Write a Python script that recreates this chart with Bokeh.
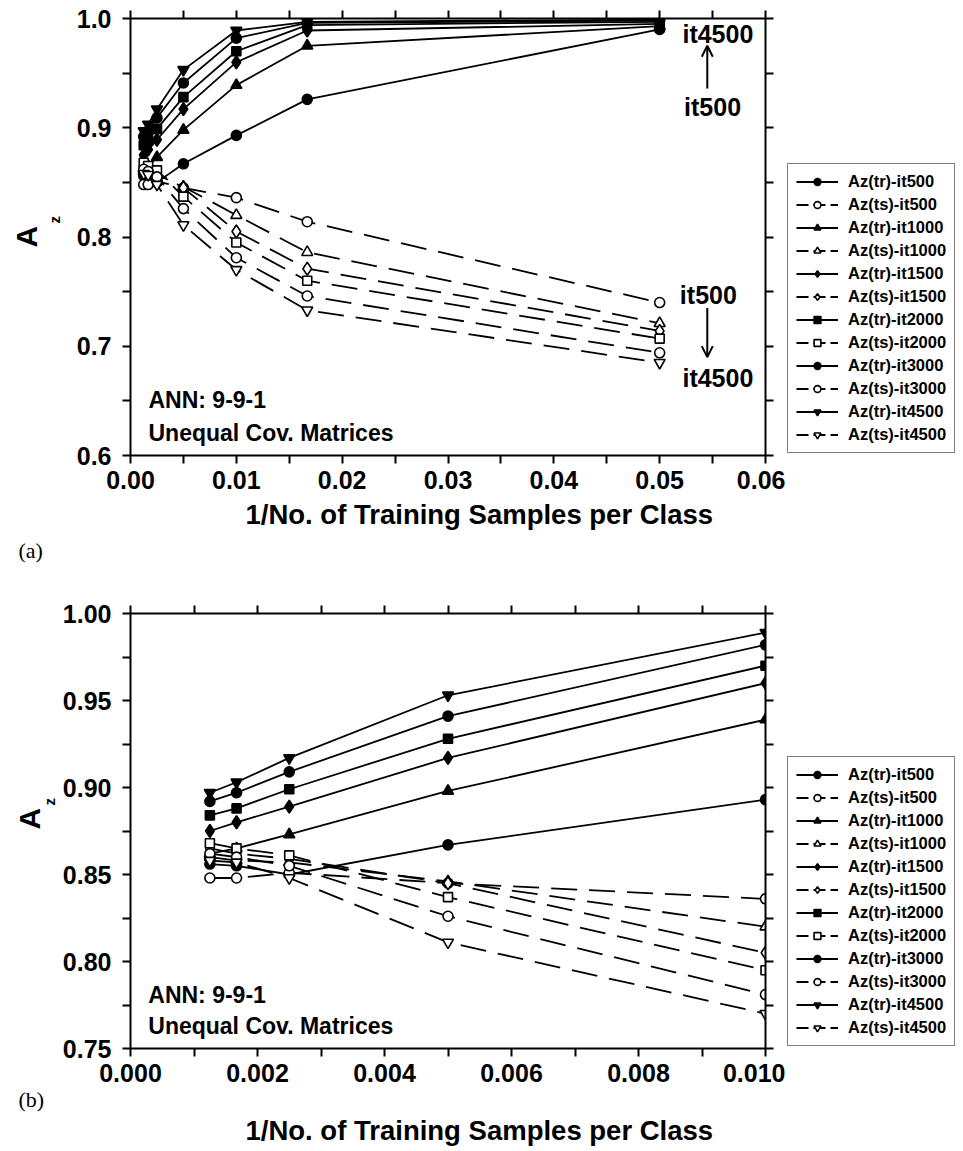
from bokeh.plotting import figure
from bokeh.models import (LinearAxis, Range1d, Legend, LegendItem, Label, Arrow,
                          OpenHead, FixedTicker, NumeralTickFormatter, Title)
from bokeh.layouts import column, row
from bokeh.embed import file_html
from bokeh.resources import INLINE

# ---------------- data ----------------
x_vals = [0.00125, 0.00167, 0.0025, 0.005, 0.01, 0.0167, 0.05]

series_labels = ["Az(tr)-it500", "Az(ts)-it500", "Az(tr)-it1000", "Az(ts)-it1000",
                 "Az(tr)-it1500", "Az(ts)-it1500", "Az(tr)-it2000", "Az(ts)-it2000",
                 "Az(tr)-it3000", "Az(ts)-it3000", "Az(tr)-it4500", "Az(ts)-it4500"]

tr500 = [0.856, 0.855, 0.850, 0.867, 0.893, 0.926, 0.990]
ts500 = [0.848, 0.848, 0.851, 0.845, 0.836, 0.814, 0.740]
tr1000 = [0.862, 0.865, 0.873, 0.898, 0.939, 0.975, 0.993]
ts1000 = [0.860, 0.858, 0.857, 0.846, 0.820, 0.786, 0.721]
tr1500 = [0.875, 0.880, 0.889, 0.917, 0.960, 0.989, 0.995]
ts1500 = [0.865, 0.862, 0.859, 0.845, 0.805, 0.771, 0.714]
tr2000 = [0.884, 0.888, 0.899, 0.928, 0.970, 0.994, 0.997]
ts2000 = [0.868, 0.865, 0.861, 0.837, 0.795, 0.760, 0.707]
tr3000 = [0.892, 0.897, 0.909, 0.941, 0.982, 0.996, 0.998]
ts3000 = [0.862, 0.860, 0.855, 0.826, 0.781, 0.746, 0.694]
tr4500 = [0.897, 0.903, 0.917, 0.953, 0.989, 0.997, 0.999]
ts4500 = [0.858, 0.857, 0.848, 0.811, 0.770, 0.733, 0.685]

series_values = [tr500, ts500, tr1000, ts1000, tr1500, ts1500,
                 tr2000, ts2000, tr3000, ts3000, tr4500, ts4500]

xticks_a = [0.0, 0.01, 0.02, 0.03, 0.04, 0.05, 0.06]
xminor_a = [0.005, 0.015, 0.025, 0.035, 0.045, 0.055]
yticks_a = [0.6, 0.7, 0.8, 0.9, 1.0]
yminor_a = [0.65, 0.75, 0.85, 0.95]
xticks_b = [0.0, 0.002, 0.004, 0.006, 0.008, 0.010]
xminor_b = [0.001, 0.003, 0.005, 0.007, 0.009]
yticks_b = [0.75, 0.80, 0.85, 0.90, 0.95, 1.00]
yminor_b = [0.775, 0.825, 0.875, 0.925, 0.975]

# ---------------- styles ----------------
FONT = "Liberation Sans"
markers = ["circle", "circle", "triangle", "triangle", "diamond", "diamond",
           "square", "square", "circle", "circle", "inverted_triangle", "inverted_triangle"]
msizes = {"circle": 10, "triangle": 11, "diamond": 13, "square": 9, "inverted_triangle": 11}
NAN = float("nan")


def style_axis(ax, ticks, minor, fmt, show_labels=True):
    if show_labels:
        ax.ticker = FixedTicker(ticks=ticks, minor_ticks=minor)
        ax.formatter = NumeralTickFormatter(format=fmt)
    else:
        # unlabeled mirror axis: every tick drawn as a minor tick (no labels)
        ax.ticker = FixedTicker(ticks=[], minor_ticks=sorted(ticks + minor))
    ax.axis_line_width = 2
    ax.axis_line_color = "black"
    ax.major_tick_line_width = 2
    ax.minor_tick_line_width = 2
    ax.major_tick_in = 0
    ax.minor_tick_in = 0
    ax.major_tick_out = 8
    ax.minor_tick_out = 8
    ax.major_label_text_font = FONT
    ax.major_label_text_font_style = "bold"
    ax.major_label_text_color = "black"
    ax.major_label_text_font_size = "25px"


def make_main(height, top, bottom, xr, yr, xt, xm, yt, ym, xfmt, yfmt, tag, tag_first,
              title_standoff, ann_y, ann_x, a_off, z_standoff, a_standoff):
    p = figure(width=785, height=height, x_range=Range1d(*xr), y_range=Range1d(*yr),
               output_backend="svg", toolbar_location=None,
               min_border_left=130, min_border_right=20,
               min_border_top=top, min_border_bottom=bottom,
               x_axis_location=None, y_axis_location=None)
    p.xgrid.visible = False
    p.ygrid.visible = False
    p.outline_line_color = None
    p.background_fill_color = "white"
    p.border_fill_color = "white"

    bx = LinearAxis()
    style_axis(bx, xt, xm, xfmt)
    bx.major_label_standoff = 7
    p.add_layout(bx, "below")

    ly = LinearAxis()
    style_axis(ly, yt, ym, yfmt)
    ly.major_label_standoff = 11
    p.add_layout(ly, "left")

    tx = LinearAxis()
    style_axis(tx, xt, xm, xfmt, show_labels=False)
    p.add_layout(tx, "above")

    ry = LinearAxis()
    style_axis(ry, yt, ym, yfmt, show_labels=False)
    p.add_layout(ry, "right")

    xtitle = Title(text="1/No. of Training Samples per Class", align="left", offset=115,
                   standoff=title_standoff, text_font=FONT, text_font_style="bold",
                   text_font_size="27.5px", text_color="black")
    tagt = Title(text=tag, align="left", offset=-112, standoff=0,
                 text_font="Liberation Serif", text_font_style="normal",
                 text_font_size="22px", text_color="black")
    if tag_first:
        p.add_layout(tagt, "below")
        p.add_layout(xtitle, "below")
    else:
        p.add_layout(xtitle, "below")
        p.add_layout(tagt, "below")

    # y-axis title: A with subscript z
    p.add_layout(Title(text="z", align="left", offset=a_off + 24, standoff=z_standoff,
                       text_font=FONT, text_font_style="bold", text_font_size="15px",
                       text_color="black"), "left")
    p.add_layout(Title(text="A", align="left", offset=a_off, standoff=a_standoff,
                       text_font=FONT, text_font_style="bold", text_font_size="30px",
                       text_color="black"), "left")

    for name, vals, mk in zip(series_labels, series_values, markers):
        is_test = "(ts)" in name
        p.line(x_vals, vals, line_color="black", line_width=1.8,
               line_dash="26 12" if is_test else "solid")
        p.scatter(x_vals, vals, marker=mk, size=msizes[mk], line_color="black",
                  line_width=1.6, fill_color="white" if is_test else "black")

    p.add_layout(Label(x=ann_x, y=ann_y[0], text="ANN: 9-9-1", text_align="left",
                       text_baseline="middle", text_font=FONT, text_font_style="bold",
                       text_font_size="23px", text_color="black"))
    p.add_layout(Label(x=ann_x, y=ann_y[1], text="Unequal Cov. Matrices", text_align="left",
                       text_baseline="middle", text_font=FONT, text_font_style="bold",
                       text_font_size="23px", text_color="black"))
    return p


def make_legend(height):
    # key panel beside the plot: legend entries styled like the plotted series
    q = figure(width=178, height=height, x_range=Range1d(0, 1), y_range=Range1d(0, 1),
               output_backend="svg", toolbar_location=None,
               min_border_left=0, min_border_right=0, min_border_top=0, min_border_bottom=0,
               x_axis_location=None, y_axis_location=None)
    q.xgrid.visible = False
    q.ygrid.visible = False
    q.outline_line_color = None
    q.border_fill_color = "white"
    items = []
    for name, mk in zip(series_labels, markers):
        is_test = "(ts)" in name
        lr = q.line(x=[NAN], y=[NAN], line_color="black", line_width=1.8,
                    line_dash="12 5" if is_test else "solid")
        sr = q.scatter(x=[NAN], y=[NAN], marker=mk, size=msizes[mk], line_color="black",
                       line_width=1.6, fill_color="white" if is_test else "black")
        items.append(LegendItem(label=name, renderers=[lr, sr]))
    leg = Legend(items=items, location=(2, 2))
    leg.label_text_font = FONT
    leg.label_text_font_style = "bold"
    leg.label_text_font_size = "16.5px"
    leg.label_text_color = "black"
    leg.glyph_width = 42
    leg.glyph_height = 17
    leg.label_height = 17
    leg.spacing = 4
    leg.padding = 8
    leg.margin = 0
    leg.label_standoff = 10
    leg.border_line_color = "black"
    leg.border_line_width = 1.5
    leg.background_fill_alpha = 1
    q.add_layout(leg)
    return q


pa = make_main(590, 18, 135, (0.0, 0.06), (0.6, 1.0), xticks_a, xminor_a,
               yticks_a, yminor_a, "0.00", "0.0", "(a)", False, 11,
               (0.651, 0.621), 0.0017, 208, 21, -19)
pb = make_main(561, 23, 103, (0.0, 0.010), (0.75, 1.0), xticks_b, xminor_b,
               yticks_b, yminor_b, "0.000", "0.00", "(b)", True, 2,
               (0.7805, 0.763), 0.00028, 219, 3, -17)
la = make_legend(590)
lb = make_legend(561)

# annotations in panel (a)
for txt, xx, yy in [("it4500", 0.0555, 0.986), ("it500", 0.055, 0.919),
                    ("it500", 0.0546, 0.747), ("it4500", 0.0555, 0.671)]:
    pa.add_layout(Label(x=xx, y=yy, text=txt, text_align="center", text_baseline="middle",
                        text_font=FONT, text_font_style="bold", text_font_size="25px",
                        text_color="black"))
pa.add_layout(Arrow(x_start=0.0545, y_start=0.936, x_end=0.0545, y_end=0.975,
                    line_width=2, end=OpenHead(size=11, line_width=2)))
pa.add_layout(Arrow(x_start=0.0545, y_start=0.735, x_end=0.0545, y_end=0.690,
                    line_width=2, end=OpenHead(size=11, line_width=2)))

layout = column(row(pa, la, spacing=0), row(pb, lb, spacing=0), spacing=0)
open("out.html", "w").write(file_html(layout, INLINE))
